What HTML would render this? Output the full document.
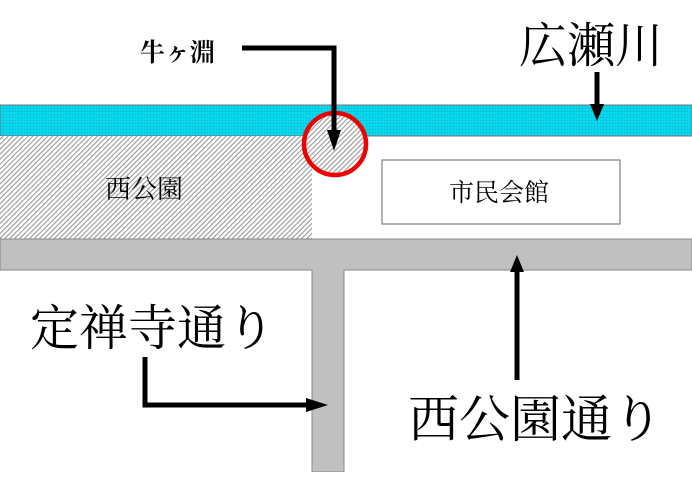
<!DOCTYPE html>
<html><head><meta charset="utf-8"><style>
html,body{margin:0;padding:0;background:#fff}
body{width:692px;height:472px;overflow:hidden}
</style></head><body>
<svg width="692" height="472" xmlns="http://www.w3.org/2000/svg" font-family="'Liberation Serif','Noto Serif CJK SC',serif">
<defs>
<pattern id="dots" width="3" height="3" patternUnits="userSpaceOnUse"><rect width="3" height="3" fill="#00d8ef"/><rect width="1" height="1" fill="#3aa0b0"/></pattern>
<pattern id="hatch" width="3.5" height="3.5" patternUnits="userSpaceOnUse" patternTransform="rotate(45)"><rect width="3.5" height="3.5" fill="#fff"/><rect width="1.1" height="3.5" fill="#999"/></pattern>
</defs>
<rect x="0" y="105" width="692" height="31" fill="url(#dots)" stroke="#777" stroke-width="1"/>
<rect x="0" y="136" width="312" height="103" fill="url(#hatch)"/>
<circle cx="335" cy="144" r="31" fill="url(#hatch)"/>
<path d="M0 239 H692 V270 H344 V472 H312 V270 H0 Z" fill="#c0c0c0" stroke="#888" stroke-width="1"/>
<rect x="382" y="160" width="238" height="64" fill="#fff" stroke="#666"/>
<text x="449" y="201" font-size="25">市民会館</text>
<text x="105" y="198" font-size="26">西公園</text>
<circle cx="335" cy="144" r="31" fill="none" stroke="#e00" stroke-width="4.5"/>
<g stroke="#000" stroke-width="5" fill="none">
<path d="M242 48 H334 V138"/>
<path d="M597 72 V110"/>
<path d="M517 380 V268"/>
<path d="M145 357 V405 H312"/>
</g>
<g fill="#000">
<path d="M327 130 L341 130 L334 151 Z"/>
<path d="M590 104 L604 104 L597 121 Z"/>
<path d="M510 272 L524 272 L517 255 Z"/>
<path d="M306 398 L306 412 L328 405 Z"/>
</g>
<text x="140" y="61" font-size="25" font-weight="bold">牛ヶ淵</text>
<text x="519" y="62" font-size="48">広瀬川</text>
<text x="30" y="345" font-size="49">定禅寺通り</text>
<text x="408" y="437" font-size="51">西公園通り</text>
</svg>
</body></html>
